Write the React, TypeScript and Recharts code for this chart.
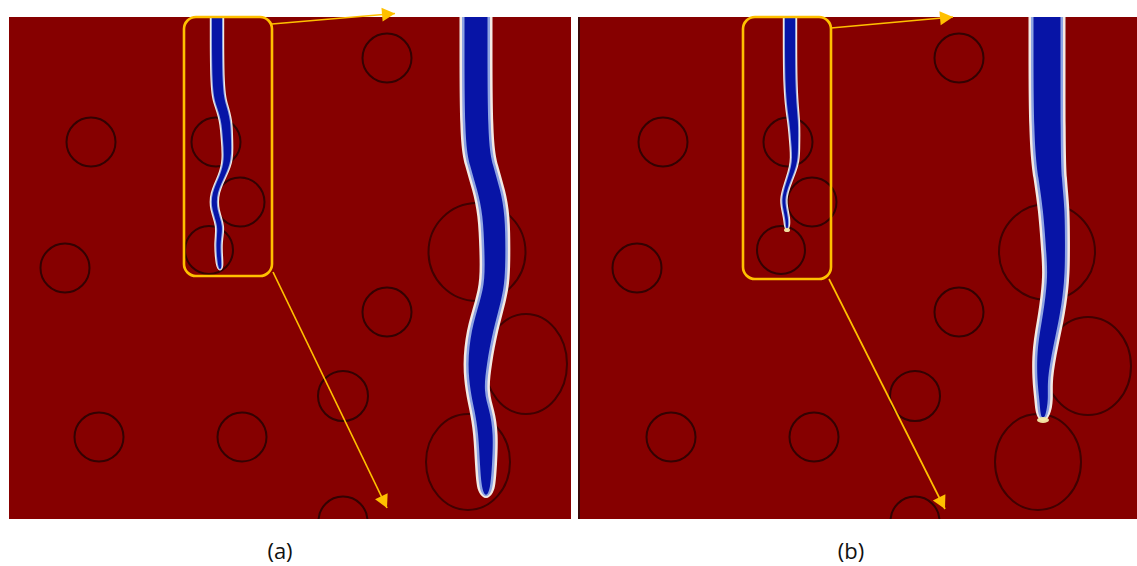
import React from 'react';
import { ScatterChart, Scatter, XAxis, YAxis, ReferenceArea } from 'recharts';

// ---------- figure frame ----------
const FIG_W = 1137;
const FIG_H = 566;
const AXIS_H = 47;
const PLOT_H = FIG_H - AXIS_H;
const X_DOMAIN: [number, number] = [0, 1137];
const Y_DOMAIN: [number, number] = [0, 519];
const KX = FIG_W / (X_DOMAIN[1] - X_DOMAIN[0]);
const KY = PLOT_H / (Y_DOMAIN[1] - Y_DOMAIN[0]);

// ---------- panels (local frame: origin at top-left of the simulation image) ----------
const PANEL_LABELS = ['(a)', '(b)'];
const PANEL_ORIGIN_X = [9, 581];
const PANEL_ORIGIN_Y = [17, 17];
const PANEL_X0 = [0, -1];
const PANEL_X1 = [562, 556];
const PANEL_Y1 = [502, 502];
const LABEL_X = [271, 270];

// inclusions (same microstructure in both panels)
const INCLUSIONS = [
  { x: 82, y: 125, r: 24.5 },
  { x: 56, y: 251, r: 24.5 },
  { x: 207, y: 125, r: 24.5 },
  { x: 231, y: 185, r: 24.5 },
  { x: 200, y: 233, r: 24 },
  { x: 378, y: 41, r: 24.5 },
  { x: 378, y: 295, r: 24.5 },
  { x: 334, y: 379, r: 25 },
  { x: 90, y: 420, r: 24.5 },
  { x: 233, y: 420, r: 24.5 },
  { x: 334, y: 504, r: 24.5 },
];

// magnified inclusions
const ZOOM_INCLUSIONS_A = [
  { x: 468, y: 235, rx: 48.5, ry: 49 },
  { x: 517, y: 347, rx: 41, ry: 50 },
  { x: 459, y: 445, rx: 42, ry: 48 },
];
const ZOOM_INCLUSIONS_B = [
  { x: 466, y: 235, rx: 48, ry: 48 },
  { x: 507, y: 349, rx: 43, ry: 49 },
  { x: 457, y: 445, rx: 43, ry: 48 },
];

// crack centre lines (x, y, opening width)
const CRACK_A = [
  { x: 208, y: 0, w: 10 },
  { x: 208, y: 73, w: 10 },
  { x: 212, y: 88, w: 10 },
  { x: 217, y: 103, w: 9 },
  { x: 218, y: 123, w: 8 },
  { x: 219, y: 143, w: 7 },
  { x: 214, y: 158, w: 5 },
  { x: 205, y: 176, w: 5 },
  { x: 205, y: 193, w: 5 },
  { x: 212, y: 209, w: 5 },
  { x: 209, y: 225, w: 4 },
  { x: 210, y: 241, w: 4 },
  { x: 211, y: 251, w: 3 },
];
const CRACK_B = [
  { x: 209, y: 0, w: 10 },
  { x: 209, y: 78, w: 10 },
  { x: 213, y: 103, w: 9 },
  { x: 214, y: 133, w: 6 },
  { x: 214, y: 148, w: 5 },
  { x: 204, y: 173, w: 3 },
  { x: 202, y: 186, w: 3 },
  { x: 206, y: 201, w: 3 },
  { x: 206, y: 211, w: 2 },
];
const ZOOM_CRACK_A = [
  { x: 467, y: 0, w: 23 },
  { x: 467, y: 123, w: 23 },
  { x: 472, y: 148, w: 23 },
  { x: 480, y: 173, w: 23 },
  { x: 485, y: 198, w: 22 },
  { x: 486, y: 233, w: 21 },
  { x: 486, y: 263, w: 20 },
  { x: 482, y: 283, w: 21 },
  { x: 473, y: 313, w: 22 },
  { x: 468, y: 348, w: 19 },
  { x: 468, y: 375, w: 13 },
  { x: 473, y: 393, w: 15 },
  { x: 477, y: 416, w: 15 },
  { x: 477, y: 450, w: 12 },
  { x: 477, y: 468, w: 9 },
  { x: 477, y: 476, w: 5 },
];
const ZOOM_CRACK_B = [
  { x: 466, y: 0, w: 27 },
  { x: 466, y: 123, w: 27 },
  { x: 469, y: 163, w: 23 },
  { x: 473, y: 190, w: 22 },
  { x: 475, y: 243, w: 18 },
  { x: 475, y: 263, w: 17 },
  { x: 471, y: 296, w: 17 },
  { x: 464, y: 330, w: 16 },
  { x: 461, y: 363, w: 10 },
  { x: 463, y: 383, w: 9 },
  { x: 462, y: 399, w: 5 },
];

// bright spots at the crack tips in (b)
const TIP_GLOW_B = [
  { x: 206, y: 213, rx: 3, ry: 2 },
  { x: 462, y: 403, rx: 6, ry: 3 },
];

// zoom boxes and arrows
const BOXES = [
  { x0: 175, y0: 0, x1: 263, y1: 259 },
  { x0: 162, y0: 0, x1: 250, y1: 262 },
];
const ARROWS_A = [
  { sx: 263, sy: 7, tx: 386, ty: -3.5 },
  { sx: 264, sy: 255, tx: 378, ty: 491 },
];
const ARROWS_B = [
  { sx: 250, sy: 11, tx: 372, ty: 0 },
  { sx: 248, sy: 262, tx: 364, ty: 492 },
];

// ---------- colours ----------
const BG = '#860000';
const BLUE = '#0714A6';
const MID_BLUE = '#8EA4E2';
const HALO = '#F3EAE4';
const RING = '#250202';
const GOLD = '#FFC000';

// ---------- helpers ----------
const gx = (p: number, x: number) => x + PANEL_ORIGIN_X[p];
const gy = (p: number, y: number) => y + PANEL_ORIGIN_Y[p];

type CP = { x: number; y: number; w: number };
function crackPolygon(p: number, pts: CP[], pad: number) {
  const left = pts.map((q) => ({ x: gx(p, q.x - q.w / 2 - pad), y: gy(p, q.y) }));
  const right = pts.map((q) => ({ x: gx(p, q.x + q.w / 2 + pad), y: gy(p, q.y) })).reverse();
  const last = pts[pts.length - 1];
  const tip = { x: gx(p, last.x), y: gy(p, last.y + last.w / 2 + pad) };
  const lt = left[0];
  const rt = right[right.length - 1];
  return [lt, lt, ...left, tip, ...right, rt, rt];
}

const Empty = () => <g />;

const ringShape = (props: any) => {
  const d = props.payload ?? props;
  return (
    <ellipse
      cx={props.cx}
      cy={props.cy}
      rx={d.rx * KX}
      ry={d.ry * KY}
      fill={d.fill ?? 'none'}
      fillOpacity={d.fo ?? 1}
      stroke={d.stroke ?? RING}
      strokeOpacity={d.op}
      strokeWidth={d.sw}
    />
  );
};

const boxShape = (props: any) => {
  const d = props.payload ?? props;
  return (
    <rect
      x={props.cx}
      y={props.cy}
      width={d.w * KX}
      height={d.h * KY}
      rx={12}
      ry={12}
      fill="none"
      stroke={GOLD}
      strokeWidth={2.6}
    />
  );
};

const headShape = (props: any) => {
  const d = props.payload ?? props;
  if (!d.tip) return <g />;
  const ang = Math.atan2(d.dy * KY, d.dx * KX);
  const L = 13;
  const H = 7;
  const c = Math.cos(ang);
  const s = Math.sin(ang);
  const bx = props.cx - L * c;
  const by = props.cy - L * s;
  const pts = [
    [props.cx, props.cy],
    [bx - H * s, by + H * c],
    [bx + H * s, by - H * c],
  ]
    .map((q) => q.join(','))
    .join(' ');
  return <polygon points={pts} fill={GOLD} />;
};

function arrowData(p: number, a: { sx: number; sy: number; tx: number; ty: number }) {
  return [
    { x: gx(p, a.sx), y: gy(p, a.sy), tip: false, dx: 0, dy: 0 },
    { x: gx(p, a.tx), y: gy(p, a.ty), tip: true, dx: a.tx - a.sx, dy: a.ty - a.sy },
  ];
}

const PANEL_ZOOM_INCL = [ZOOM_INCLUSIONS_A, ZOOM_INCLUSIONS_B];
const PANEL_CRACK = [CRACK_A, CRACK_B];
const PANEL_ZOOM_CRACK = [ZOOM_CRACK_A, ZOOM_CRACK_B];
const PANEL_ARROWS = [ARROWS_A, ARROWS_B];

function crackLayers(p: number, pts: CP[], halo: number, mid: number, key: string) {
  const layers = [
    { pad: halo, fill: HALO },
    { pad: mid, fill: MID_BLUE },
    { pad: 0, fill: BLUE },
  ];
  return layers.map((l, i) => (
    <Scatter
      key={`${key}-${i}`}
      data={crackPolygon(p, pts, l.pad)}
      line={{ fill: l.fill, stroke: 'none' }}
      lineType="joint"
      lineJointType="basisClosed"
      shape={Empty}
      isAnimationActive={false}
      legendType="none"
    />
  ));
}

export default function App() {
  const ticks = LABEL_X.map((x, i) => gx(i, x));
  const panels = [0, 1];
  return (
    <div style={{ position: 'absolute', left: 0, top: 0, width: FIG_W, height: FIG_H, background: '#ffffff' }}>
      <ScatterChart width={FIG_W} height={FIG_H} margin={{ top: 0, right: 0, bottom: 0, left: 0 }}>
        <XAxis
          type="number"
          dataKey="x"
          domain={X_DOMAIN}
          allowDataOverflow
          ticks={ticks}
          interval={0}
          tickFormatter={(v: number) => PANEL_LABELS[ticks.indexOf(v)] ?? ''}
          axisLine={false}
          tickLine={false}
          tickSize={0}
          tickMargin={24}
          height={AXIS_H}
          tick={{ fontSize: 22, fill: '#111', fontFamily: 'Open Sans' }}
        />
        <YAxis type="number" dataKey="y" domain={Y_DOMAIN} reversed hide allowDataOverflow />
        {panels.map((p) => (
          <ReferenceArea
            key={`bg${p}`}
            x1={gx(p, PANEL_X0[p])}
            x2={gx(p, PANEL_X1[p])}
            y1={gy(p, 0)}
            y2={gy(p, PANEL_Y1[p])}
            fill={BG}
            fillOpacity={1}
            stroke="none"
          />
        ))}
        <ReferenceArea x1={578} x2={580} y1={gy(1, 0)} y2={gy(1, PANEL_Y1[1])} fill="#3a0808" fillOpacity={1} stroke="none" />
        {panels.map((p) => (
          <Scatter
            key={`incl${p}`}
            data={INCLUSIONS.map((c) => ({ x: gx(p, c.x), y: gy(p, c.y), rx: c.r, ry: c.r, sw: 2, op: 0.85 }))}
            shape={ringShape}
            isAnimationActive={false}
            legendType="none"
          />
        ))}
        {panels.map((p) => (
          <Scatter
            key={`zincl${p}`}
            data={PANEL_ZOOM_INCL[p].map((c) => ({ x: gx(p, c.x), y: gy(p, c.y), rx: c.rx, ry: c.ry, sw: 2, op: 0.72 }))}
            shape={ringShape}
            isAnimationActive={false}
            legendType="none"
          />
        ))}
        {panels.map((p) => crackLayers(p, PANEL_CRACK[p], 2.2, 1, `c${p}`))}
        {panels.map((p) => crackLayers(p, PANEL_ZOOM_CRACK[p], 5, 2.5, `z${p}`))}
        <Scatter
          data={TIP_GLOW_B.map((t) => ({ x: gx(1, t.x), y: gy(1, t.y), rx: t.rx, ry: t.ry, sw: 0, op: 0, fill: '#F6EBA8', fo: 0.95, stroke: 'none' }))}
          shape={ringShape}
          isAnimationActive={false}
          legendType="none"
        />
        {panels.map((p) => (
          <Scatter
            key={`box${p}`}
            data={[{ x: gx(p, BOXES[p].x0), y: gy(p, BOXES[p].y0), w: BOXES[p].x1 - BOXES[p].x0, h: BOXES[p].y1 - BOXES[p].y0 }]}
            shape={boxShape}
            isAnimationActive={false}
            legendType="none"
          />
        ))}
        {panels.map((p) =>
          PANEL_ARROWS[p].map((a, i) => (
            <Scatter
              key={`arr${p}-${i}`}
              data={arrowData(p, a)}
              line={{ stroke: GOLD, strokeWidth: 1.7 }}
              lineType="joint"
              shape={headShape}
              isAnimationActive={false}
              legendType="none"
            />
          ))
        )}
      </ScatterChart>
    </div>
  );
}
